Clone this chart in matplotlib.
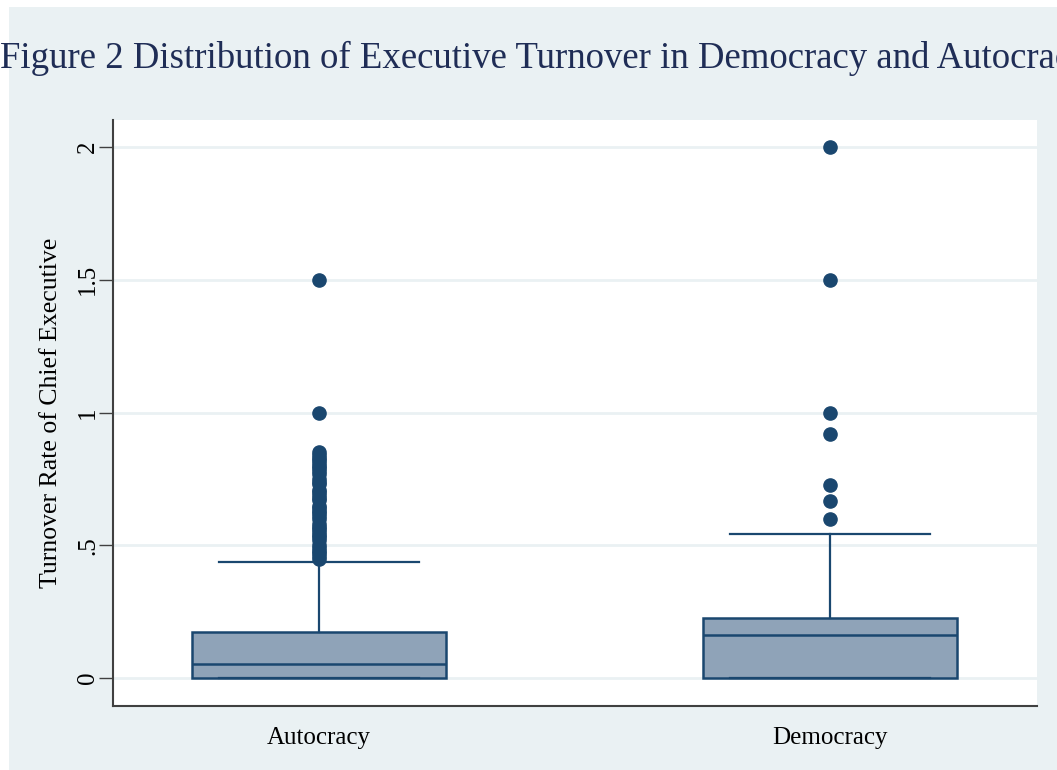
import matplotlib
matplotlib.use('Agg')
import matplotlib.pyplot as plt
from matplotlib.patches import Rectangle

# ─────────────────────────────────────────────
# Box summaries (turnover rate of chief executive)
# ─────────────────────────────────────────────

GROUPS = ['Autocracy', 'Democracy']
Q1 = [0.0, 0.0]
MEDIAN = [0.054, 0.163]
Q3 = [0.173, 0.225]
WHISK_LO = [0.0, 0.0]
WHISK_HI = [0.436, 0.542]

AUTOCRACY_OUTLIERS = [0.45, 0.46, 0.47, 0.48, 0.49, 0.50, 0.52, 0.53, 0.54,
                      0.55, 0.56, 0.57, 0.58, 0.60, 0.61, 0.62, 0.63, 0.64,
                      0.65, 0.67, 0.68, 0.69, 0.70, 0.71, 0.73, 0.74, 0.75,
                      0.77, 0.78, 0.79, 0.80, 0.81, 0.82, 0.83, 0.84, 0.85,
                      1.0, 1.5]
DEMOCRACY_OUTLIERS = [0.60, 0.667, 0.727, 0.92, 1.0, 1.5, 2.0]

Y_TICKS = [0, 0.5, 1, 1.5, 2]
Y_TICKLABELS = ['0', '.5', '1', '1.5', '2']

TITLE = 'Figure 2 Distribution of Executive Turnover in Democracy and Autocracy'
YLABEL = 'Turnover Rate of Chief Executive'

NAVY = '#1A476F'
FILL = '#8FA3B8'
BG = '#EAF1F3'
TEXT = '#1F2D56'

plt.rcParams['font.family'] = ['Liberation Serif', 'DejaVu Serif']

fig = plt.figure(figsize=(10.57, 7.70), dpi=100, facecolor='white')
W, H = 1057, 770

# graph region background (white margin on the left and top)
fig.patches.append(Rectangle((9 / W, 0), 1, 1 - 7 / H, transform=fig.transFigure,
                             facecolor=BG, edgecolor='none', zorder=-10))

ax = fig.add_axes([113 / W, 1 - 706 / H, (1037 - 113) / W, (706 - 120) / H])
ax.set_zorder(1)
ax.set_facecolor('white')

stats = []
fliers = [AUTOCRACY_OUTLIERS, DEMOCRACY_OUTLIERS]
for i, name in enumerate(GROUPS):
    stats.append({'label': name, 'q1': Q1[i], 'med': MEDIAN[i], 'q3': Q3[i],
                  'whislo': WHISK_LO[i], 'whishi': WHISK_HI[i],
                  'fliers': fliers[i]})

ax.bxp(stats, positions=[1, 2], widths=0.497, capwidths=0.393,
       patch_artist=True, showfliers=True,
       boxprops=dict(facecolor=FILL, edgecolor=NAVY, linewidth=1.8),
       medianprops=dict(color=NAVY, linewidth=1.8),
       whiskerprops=dict(color=NAVY, linewidth=1.6),
       capprops=dict(color=NAVY, linewidth=1.6),
       flierprops=dict(marker='o', markerfacecolor=NAVY, markeredgecolor=NAVY,
                       markersize=9.5, linestyle='none'))

ax.set_xlim(0.597, 2.405)
ax.set_ylim(-0.105, 2.102)

ax.set_yticks(Y_TICKS)
ax.set_yticklabels(Y_TICKLABELS, rotation=90, va='center', fontsize=18)
ax.yaxis.grid(True, color=BG, linewidth=2)
ax.set_axisbelow(True)
ax.tick_params(axis='y', length=10, width=1, color='#404040', pad=0)
ax.tick_params(axis='x', length=0, pad=15, labelsize=18)

for s in ['top', 'right']:
    ax.spines[s].set_visible(False)
for s in ['left', 'bottom']:
    ax.spines[s].set_color('#404040')
    ax.spines[s].set_linewidth(1.5)

ax.set_ylabel(YLABEL, fontsize=18.5, labelpad=11)

fig.text(0.0, 1 - 68 / H, TITLE, fontsize=26.5, color=TEXT, ha='left', va='baseline')

fig.savefig('out.png', dpi=100, facecolor=fig.get_facecolor())
